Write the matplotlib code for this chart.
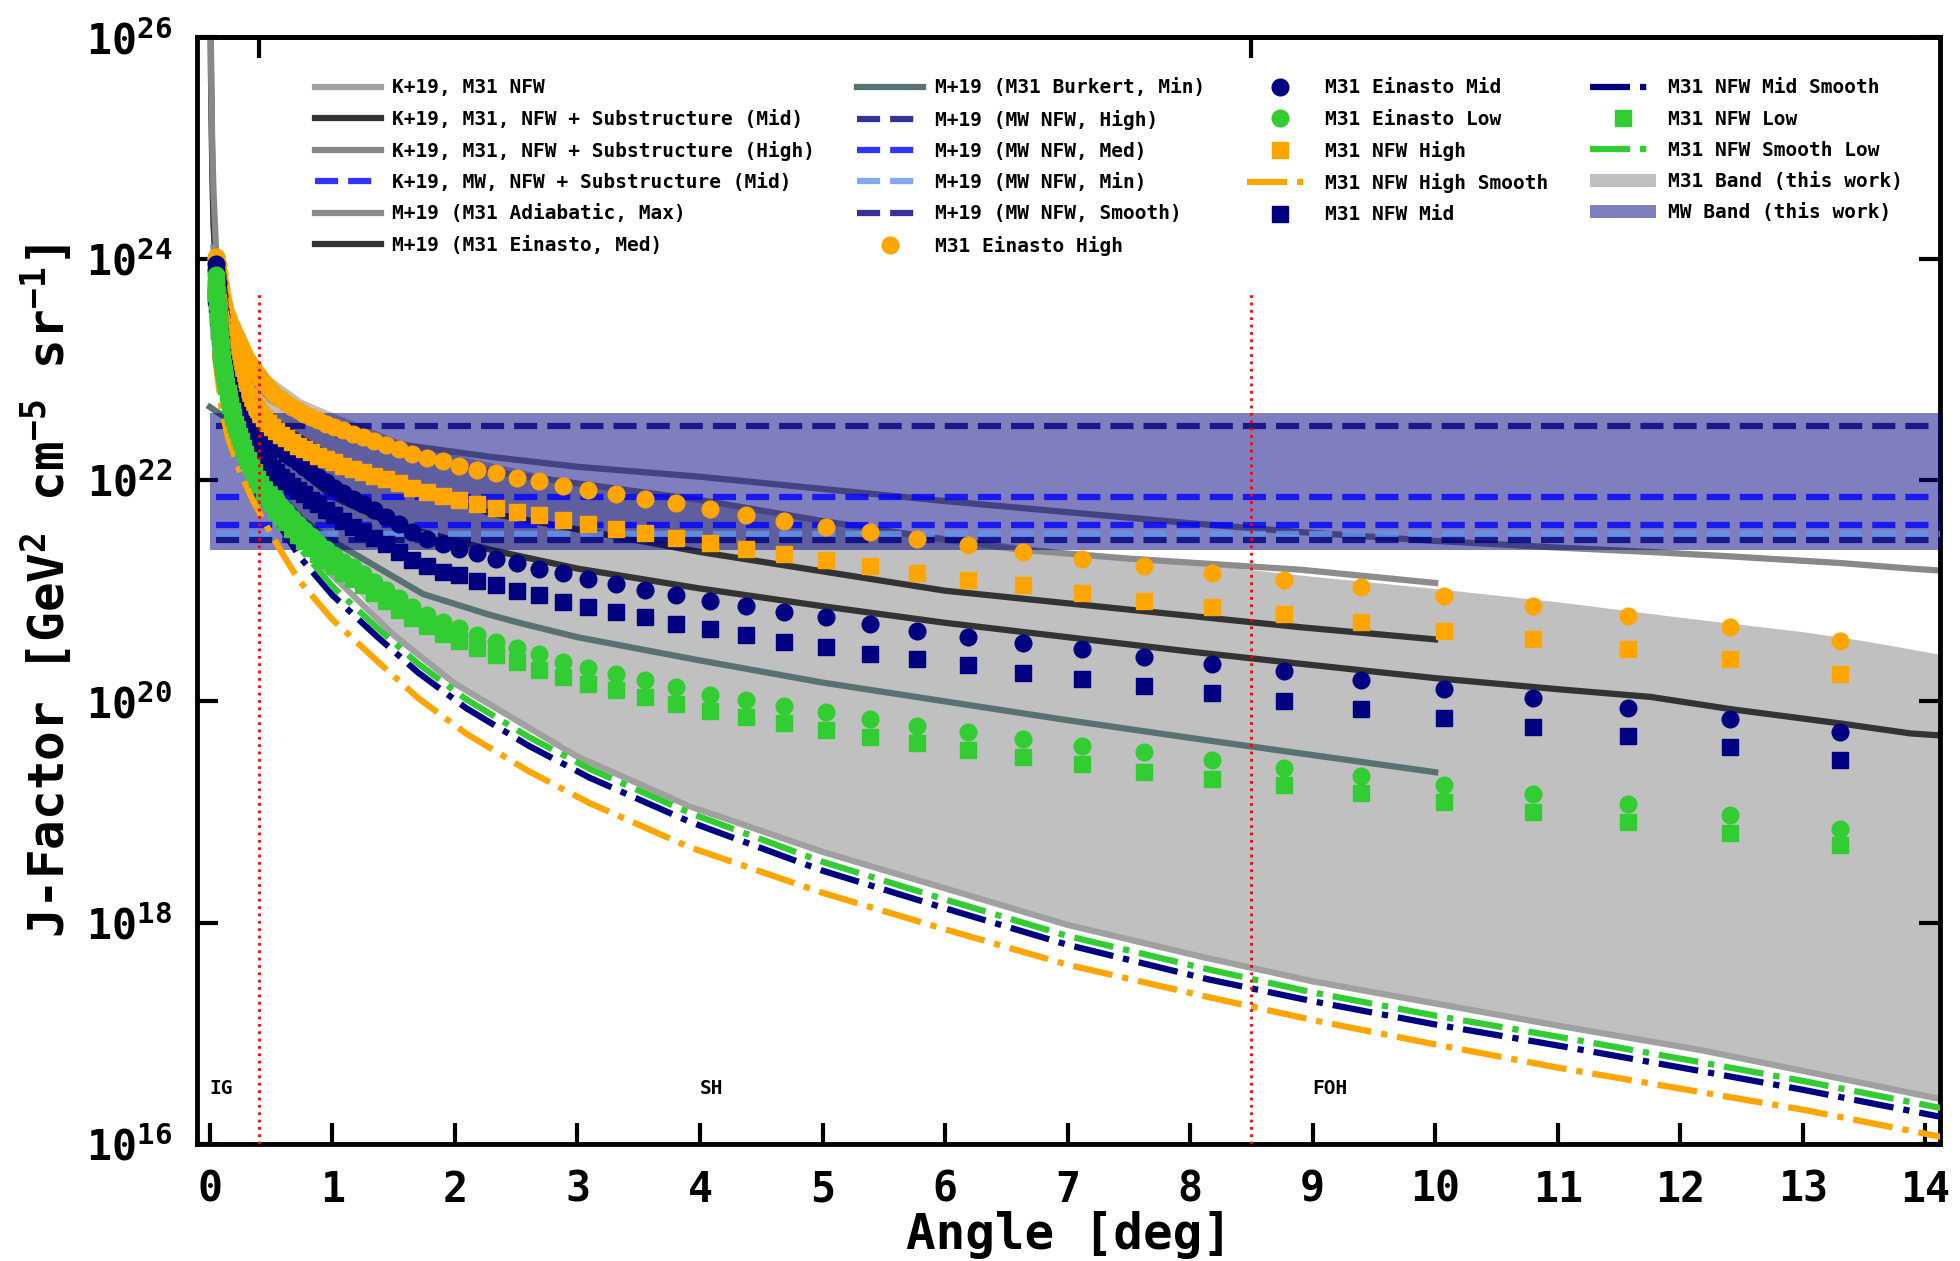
import numpy as np
import matplotlib
matplotlib.use("Agg")
import matplotlib.pyplot as plt
from matplotlib.patches import Patch

plt.rcParams.update({
    "font.family": "DejaVu Sans Mono",
    "font.weight": "bold",
    "mathtext.fontset": "custom",
    "mathtext.rm": "DejaVu Sans Mono:bold",
    "mathtext.it": "DejaVu Sans Mono:bold",
    "mathtext.bf": "DejaVu Sans Mono:bold",
    "mathtext.sf": "DejaVu Sans Mono:bold",
    "mathtext.tt": "DejaVu Sans Mono:bold",
    "mathtext.default": "rm",
    "axes.linewidth": 3.5,
})

# ---------------- boosted-halo point series (log10 J) ----------------
angle_pts = [0.051, 0.054, 0.058, 0.063, 0.067, 0.072, 0.077, 0.083, 0.089, 0.095,
             0.102, 0.110, 0.117, 0.126, 0.135, 0.145, 0.155, 0.166, 0.178, 0.191,
             0.205, 0.220, 0.236, 0.253, 0.271, 0.290, 0.311, 0.334, 0.358, 0.384,
             0.411, 0.441, 0.473, 0.507, 0.543, 0.583, 0.624, 0.669, 0.718, 0.769,
             0.825, 0.884, 0.948, 1.016, 1.089, 1.167, 1.251, 1.341, 1.438, 1.541,
             1.652, 1.771, 1.899, 2.035, 2.182, 2.339, 2.507, 2.688, 2.881, 3.089,
             3.311, 3.550, 3.805, 4.079, 4.373, 4.688, 5.025, 5.387, 5.775, 6.190,
             6.636, 7.114, 7.626, 8.175, 8.764, 9.395, 10.071, 10.796, 11.574, 12.407,
             13.300]

ein_high = [24.02, 24.00, 23.97, 23.94, 23.90, 23.86, 23.82, 23.78, 23.74, 23.70,
            23.66, 23.62, 23.58, 23.54, 23.50, 23.47, 23.44, 23.41, 23.38, 23.35,
            23.32, 23.28, 23.24, 23.20, 23.16, 23.12, 23.08, 23.04, 23.00, 22.96,
            22.92, 22.88, 22.84, 22.80, 22.76, 22.73, 22.70, 22.66, 22.63, 22.60,
            22.57, 22.54, 22.51, 22.48, 22.45, 22.42, 22.39, 22.35, 22.32, 22.28,
            22.24, 22.20, 22.17, 22.13, 22.09, 22.06, 22.02, 21.99, 21.95, 21.91,
            21.87, 21.83, 21.79, 21.74, 21.68, 21.63, 21.58, 21.53, 21.47, 21.41,
            21.35, 21.29, 21.22, 21.16, 21.10, 21.03, 20.95, 20.86, 20.77, 20.67,
            20.55]

ein_mid = [23.95, 23.90, 23.84, 23.78, 23.72, 23.66, 23.60, 23.54, 23.48, 23.42,
           23.36, 23.31, 23.26, 23.21, 23.16, 23.11, 23.06, 23.01, 22.97, 22.92,
           22.88, 22.84, 22.80, 22.76, 22.72, 22.68, 22.64, 22.60, 22.56, 22.52,
           22.48, 22.44, 22.40, 22.36, 22.32, 22.28, 22.24, 22.20, 22.16, 22.12,
           22.07, 22.03, 21.98, 21.93, 21.88, 21.83, 21.78, 21.73, 21.67, 21.60,
           21.53, 21.47, 21.42, 21.38, 21.34, 21.29, 21.25, 21.20, 21.16, 21.11,
           21.06, 21.01, 20.96, 20.91, 20.86, 20.81, 20.76, 20.70, 20.64, 20.58,
           20.53, 20.47, 20.40, 20.34, 20.27, 20.19, 20.11, 20.03, 19.94, 19.84,
           19.72]

ein_low = [23.85, 23.79, 23.72, 23.64, 23.58, 23.51, 23.45, 23.38, 23.31, 23.25,
           23.19, 23.12, 23.07, 23.01, 22.95, 22.89, 22.84, 22.78, 22.72, 22.67,
           22.61, 22.56, 22.50, 22.45, 22.39, 22.34, 22.28, 22.22, 22.17, 22.11,
           22.06, 22.00, 21.94, 21.89, 21.83, 21.77, 21.72, 21.66, 21.60, 21.55,
           21.49, 21.43, 21.38, 21.32, 21.26, 21.21, 21.15, 21.08, 21.01, 20.93,
           20.85, 20.78, 20.72, 20.66, 20.60, 20.54, 20.48, 20.43, 20.36, 20.30,
           20.25, 20.19, 20.13, 20.06, 20.01, 19.96, 19.90, 19.84, 19.78, 19.72,
           19.66, 19.60, 19.54, 19.47, 19.40, 19.33, 19.24, 19.16, 19.07, 18.97,
           18.85]

nfw_high = [23.69, 23.67, 23.64, 23.61, 23.58, 23.54, 23.50, 23.46, 23.42, 23.38,
            23.34, 23.30, 23.26, 23.22, 23.18, 23.15, 23.12, 23.09, 23.06, 23.03,
            23.00, 22.96, 22.92, 22.88, 22.84, 22.80, 22.76, 22.72, 22.68, 22.64,
            22.60, 22.56, 22.52, 22.48, 22.44, 22.41, 22.38, 22.34, 22.31, 22.28,
            22.25, 22.22, 22.19, 22.16, 22.13, 22.10, 22.07, 22.04, 22.01, 21.97,
            21.93, 21.89, 21.86, 21.82, 21.78, 21.75, 21.71, 21.68, 21.64, 21.60,
            21.56, 21.52, 21.48, 21.43, 21.38, 21.33, 21.28, 21.22, 21.16, 21.10,
            21.05, 20.98, 20.91, 20.85, 20.79, 20.72, 20.64, 20.56, 20.47, 20.38,
            20.25]

nfw_mid = [23.70, 23.65, 23.59, 23.53, 23.47, 23.41, 23.35, 23.29, 23.23, 23.17,
           23.11, 23.06, 23.01, 22.96, 22.91, 22.86, 22.81, 22.76, 22.72, 22.67,
           22.63, 22.59, 22.55, 22.51, 22.47, 22.43, 22.39, 22.35, 22.31, 22.27,
           22.23, 22.19, 22.15, 22.11, 22.07, 22.03, 21.99, 21.95, 21.91, 21.87,
           21.82, 21.78, 21.73, 21.68, 21.63, 21.58, 21.53, 21.48, 21.42, 21.35,
           21.28, 21.22, 21.17, 21.14, 21.09, 21.05, 21.00, 20.96, 20.90, 20.85,
           20.81, 20.76, 20.70, 20.65, 20.60, 20.54, 20.49, 20.43, 20.38, 20.33,
           20.26, 20.20, 20.14, 20.08, 20.00, 19.93, 19.85, 19.77, 19.69, 19.59,
           19.47]

nfw_low = [23.75, 23.69, 23.62, 23.54, 23.48, 23.41, 23.35, 23.28, 23.21, 23.15,
           23.09, 23.02, 22.97, 22.91, 22.85, 22.79, 22.74, 22.68, 22.62, 22.57,
           22.51, 22.46, 22.40, 22.35, 22.29, 22.24, 22.18, 22.12, 22.07, 22.01,
           21.96, 21.90, 21.84, 21.79, 21.73, 21.67, 21.62, 21.56, 21.50, 21.45,
           21.39, 21.33, 21.28, 21.22, 21.16, 21.11, 21.05, 20.98, 20.91, 20.83,
           20.75, 20.68, 20.61, 20.55, 20.48, 20.42, 20.36, 20.28, 20.22, 20.16,
           20.10, 20.04, 19.98, 19.91, 19.86, 19.80, 19.74, 19.68, 19.62, 19.56,
           19.50, 19.43, 19.36, 19.30, 19.24, 19.17, 19.09, 19.00, 18.91, 18.81,
           18.70]

# ---------------- smooth NFW curves (log10 J) ----------------
smooth_angle = [0.04, 0.06, 0.10, 0.15, 0.24, 0.35, 0.47, 0.60, 0.73, 1.00, 1.36, 1.70,
                2.09, 2.60, 3.10, 3.92, 5.00, 6.00, 7.00, 8.14, 9.00, 10.0, 11.0, 12.16,
                13.0, 14.15]
nfw_high_smooth = [23.15, 22.95, 22.62, 22.38, 22.09, 21.82, 21.57, 21.32, 21.09, 20.74,
                   20.37, 20.03, 19.71, 19.37, 19.08, 18.68, 18.27, 17.94, 17.62, 17.33,
                   17.12, 16.90, 16.69, 16.47, 16.31, 16.06]
nfw_mid_smooth = [23.35, 23.15, 22.82, 22.58, 22.30, 22.03, 21.79, 21.54, 21.31, 20.96,
                  20.59, 20.26, 19.94, 19.60, 19.31, 18.91, 18.47, 18.13, 17.80, 17.49,
                  17.29, 17.08, 16.89, 16.66, 16.49, 16.24]
nfw_low_smooth = [23.43, 23.23, 22.90, 22.66, 22.38, 22.11, 21.87, 21.62, 21.39, 21.04,
                  20.67, 20.34, 20.02, 19.68, 19.39, 18.99, 18.55, 18.21, 17.88, 17.58,
                  17.37, 17.16, 16.97, 16.74, 16.57, 16.32]

# ---------------- K+19 curves ----------------
k19_angle = [0.002, 0.01, 0.02, 0.03, 0.05, 0.10, 0.20, 0.40, 0.87, 1.50, 2.00, 3.00,
             3.92, 5.00, 6.00, 7.00, 8.10, 9.00, 10.0, 11.0, 12.16, 13.49, 14.15]
k19_m31_nfw = [27.0, 25.6, 24.8, 24.4, 23.8, 23.10, 22.45, 21.85, 21.28, 20.60, 20.16,
               19.50, 19.05, 18.64, 18.31, 17.98, 17.69, 17.47, 17.27, 17.07, 16.85,
               16.55, 16.40]
k19_angle_sub = [0.002, 0.01, 0.02, 0.03, 0.05, 0.10, 0.24, 0.50, 1.00, 1.50, 2.29, 3.00,
                 4.00, 5.00, 6.00, 7.00, 8.00, 8.90, 10.0, 11.0, 11.76, 12.41, 13.31,
                 13.88, 14.15]
k19_sub_mid = [27.0, 25.6, 24.8, 24.3, 23.9, 23.40, 22.80, 22.30, 21.85, 21.60, 21.37,
               21.20, 21.02, 20.86, 20.71, 20.58, 20.45, 20.34, 20.21, 20.11, 20.04,
               19.93, 19.80, 19.71, 19.69]
k19_sub_high = [27.0, 25.7, 25.0, 24.6, 24.1, 23.55, 23.05, 22.72, 22.45, 22.33, 22.21,
                22.12, 22.03, 21.92, 21.81, 21.71, 21.61, 21.53, 21.45, 21.39, 21.35,
                21.31, 21.25, 21.20, 21.18]
k19_mw_mid = 21.59

# ---------------- M+19 curves ----------------
m19_adiabatic_angle = [0.03, 0.10, 0.30, 0.50, 1.00, 2.00, 3.00, 4.00, 5.00, 6.00, 6.62,
                       7.50, 8.90, 10.0]
m19_adiabatic_max = [24.1, 23.40, 22.95, 22.72, 22.42, 22.12, 21.97, 21.82, 21.63, 21.46,
                     21.37, 21.29, 21.19, 21.07]
m19_einasto_angle = [0.03, 0.05, 0.20, 0.50, 1.00, 2.29, 4.00, 6.00, 8.90, 10.0]
m19_einasto_med = [23.61, 23.55, 23.00, 22.55, 22.20, 21.70, 21.35, 21.00, 20.67, 20.56]
m19_burkert_angle = [0.0, 0.16, 0.30, 0.50, 0.75, 1.00, 1.74, 2.29, 2.56, 3.00, 4.00,
                     5.00, 6.00, 7.00, 8.00, 8.90, 10.0]
m19_burkert_min = [22.66, 22.54, 22.30, 21.95, 21.65, 21.45, 20.97, 20.78, 20.70, 20.58,
                   20.37, 20.17, 20.00, 19.83, 19.67, 19.53, 19.36]
m19_mw_high = 22.49
m19_mw_med = 21.845
m19_mw_min = 21.51
m19_mw_smooth = 21.46
mw_line_span = [0.05, 14.3]

# ---------------- bands from this work ----------------
m31_band_angle = [0.03, 0.05, 0.10, 0.20, 0.33, 0.50, 0.75, 1.00, 1.50, 2.00, 3.00, 4.00,
                  5.00, 6.00, 7.00, 8.00, 9.00, 10.0, 11.0, 12.0, 13.0, 13.49, 14.15]
m31_band_hi = [24.30, 24.10, 23.80, 23.48, 23.17, 22.93, 22.73, 22.61, 22.38, 22.23,
               21.98, 21.82, 21.65, 21.50, 21.36, 21.25, 21.13, 21.02, 20.90, 20.76,
               20.63, 20.55, 20.42]
m31_band_lo = [23.30, 23.20, 22.95, 22.45, 22.05, 21.80, 21.50, 21.25, 20.60, 20.16,
               19.50, 19.05, 18.64, 18.31, 17.98, 17.72, 17.47, 17.27, 17.07, 16.88,
               16.68, 16.55, 16.40]
mw_band_span = [0.0, 14.3]
mw_band_lo = 21.366
mw_band_hi = 22.605

# region boundaries and labels
region_edges = [0.4, 8.5]
region_labels = ["IG", "SH", "FOH"]
region_label_x = [0.0, 4.0, 9.0]

xtick_vals = list(range(0, 15))
ytick_exps = [16, 18, 20, 22, 24, 26]


def p10(v):
    return 10.0 ** np.asarray(v, dtype=float)


fig = plt.figure(figsize=(19.6, 12.61), dpi=100)
ax = fig.add_axes([0.1005, 0.0928, 0.8893, 0.8775])
ax.set_yscale("log")

LW = 4.5
MS = 12

# M31 band (drawn first, underneath everything)
h_m31band = ax.fill_between(m31_band_angle, p10(m31_band_lo), p10(m31_band_hi),
                            color="silver", lw=0, zorder=1)

# K+19 and M+19 M31 curves
h_k19_nfw, = ax.plot(k19_angle, p10(k19_m31_nfw), color="#a0a0a0", lw=LW, zorder=2)
h_k19_mid, = ax.plot(k19_angle_sub, p10(k19_sub_mid), color="#333333", lw=LW, zorder=2)
h_k19_high, = ax.plot(k19_angle_sub, p10(k19_sub_high), color="#888888", lw=LW, zorder=2)
h_m19_adi, = ax.plot(m19_adiabatic_angle, p10(m19_adiabatic_max), color="#8c8c8c",
                     lw=LW, zorder=2)
h_m19_ein, = ax.plot(m19_einasto_angle, p10(m19_einasto_med), color="#333333", lw=LW,
                     zorder=2)
h_m19_bur, = ax.plot(m19_burkert_angle, p10(m19_burkert_min), color="#587272", lw=LW,
                     zorder=2)

# MW band on top of the M31 curves
ax.fill_between(mw_band_span, p10([mw_band_lo] * 2), p10([mw_band_hi] * 2),
                color="navy", alpha=0.5, lw=0, zorder=3)
h_mwband = Patch(facecolor="navy", alpha=0.5, lw=0)

# MW reference levels
h_k19_mw, = ax.plot(mw_line_span, p10([k19_mw_mid] * 2), ls="--", color="blue",
                    alpha=0.8, lw=LW, zorder=4)
h_mw_high, = ax.plot(mw_line_span, p10([m19_mw_high] * 2), ls="--", color="navy",
                     alpha=0.8, lw=LW, zorder=4)
h_mw_med, = ax.plot(mw_line_span, p10([m19_mw_med] * 2), ls="--", color="blue",
                    alpha=0.8, lw=LW, zorder=4)
h_mw_min, = ax.plot(mw_line_span, p10([m19_mw_min] * 2), ls="--", color="cornflowerblue",
                    alpha=0.8, lw=LW, zorder=4)
h_mw_smooth, = ax.plot(mw_line_span, p10([m19_mw_smooth] * 2), ls="--", color="navy",
                       alpha=0.8, lw=LW, zorder=4)

# this work: point series and smooth curves
h_eh, = ax.plot(angle_pts, p10(ein_high), "o", color="orange", ms=MS, zorder=6)
h_em, = ax.plot(angle_pts, p10(ein_mid), "o", color="navy", ms=MS, zorder=6)
h_el, = ax.plot(angle_pts, p10(ein_low), "o", color="limegreen", ms=MS, zorder=6)
h_nh, = ax.plot(angle_pts, p10(nfw_high), "s", color="orange", ms=MS, zorder=6)
h_nhs, = ax.plot(smooth_angle, p10(nfw_high_smooth), "-.", color="orange", lw=LW, zorder=5)
h_nm, = ax.plot(angle_pts, p10(nfw_mid), "s", color="navy", ms=MS, zorder=6)
h_nms, = ax.plot(smooth_angle, p10(nfw_mid_smooth), "-.", color="navy", lw=LW, zorder=5)
h_nl, = ax.plot(angle_pts, p10(nfw_low), "s", color="limegreen", ms=MS, zorder=6)
h_nls, = ax.plot(smooth_angle, p10(nfw_low_smooth), "-.", color="limegreen", lw=LW, zorder=5)

# region boundaries
ax.vlines(region_edges, 1e16, 5e23, colors="red", linestyles=":", lw=2, zorder=7)
for lab, xl in zip(region_labels, region_label_x):
    ax.text(xl, 2.8e16, lab, fontsize=14, fontweight="bold", ha="left", va="baseline",
            zorder=8)

ax.set_xlim(-0.105, 14.12)
ax.set_ylim(1e16, 1e26)
ax.set_xticks(xtick_vals)
ax.set_yticks([10.0 ** e for e in ytick_exps])
ax.yaxis.set_minor_locator(matplotlib.ticker.NullLocator())
ax.tick_params(axis="both", which="major", direction="in", length=15, width=3,
               labelsize=30, pad=18, right=True, top=False)
for lbl in ax.get_xticklabels() + ax.get_yticklabels():
    lbl.set_fontweight("bold")

secax = ax.secondary_xaxis("top")
secax.set_xticks(region_edges)
secax.set_xticklabels([])
secax.tick_params(direction="in", length=15, width=3)
secax.spines["top"].set_linewidth(3.5)

ax.set_xlabel("Angle [deg]", fontsize=35.5, fontweight="bold", labelpad=0)
ax.set_ylabel(r"J-Factor [GeV$^2$ cm$^{-5}$ sr$^{-1}$]", fontsize=35.5,
              fontweight="bold", labelpad=8)

handles = [h_k19_nfw, h_k19_mid, h_k19_high, h_k19_mw, h_m19_adi, h_m19_ein,
           h_m19_bur, h_mw_high, h_mw_med, h_mw_min, h_mw_smooth, h_eh,
           h_em, h_el, h_nh, h_nhs, h_nm,
           h_nms, h_nl, h_nls, h_m31band, h_mwband]
labels = ["K+19, M31 NFW", "K+19, M31, NFW + Substructure (Mid)",
          "K+19, M31, NFW + Substructure (High)", "K+19, MW, NFW + Substructure (Mid)",
          "M+19 (M31 Adiabatic, Max)", "M+19 (M31 Einasto, Med)",
          "M+19 (M31 Burkert, Min)", "M+19 (MW NFW, High)", "M+19 (MW NFW, Med)",
          "M+19 (MW NFW, Min)", "M+19 (MW NFW, Smooth)", "M31 Einasto High",
          "M31 Einasto Mid", "M31 Einasto Low", "M31 NFW High", "M31 NFW High Smooth",
          "M31 NFW Mid", "M31 NFW Mid Smooth", "M31 NFW Low", "M31 NFW Smooth Low",
          "M31 Band (this work)", "MW Band (this work)"]
leg = ax.legend(handles, labels, ncol=4, loc="upper left", bbox_to_anchor=(0.063, 0.970),
                frameon=False, prop={"family": "DejaVu Sans Mono", "weight": "bold",
                                     "size": 14},
                handlelength=3.4, handletextpad=0.6, columnspacing=2.15,
                labelspacing=0.63, borderaxespad=0.0)
leg.set_zorder(10)

fig.savefig("out.png", dpi=100)
